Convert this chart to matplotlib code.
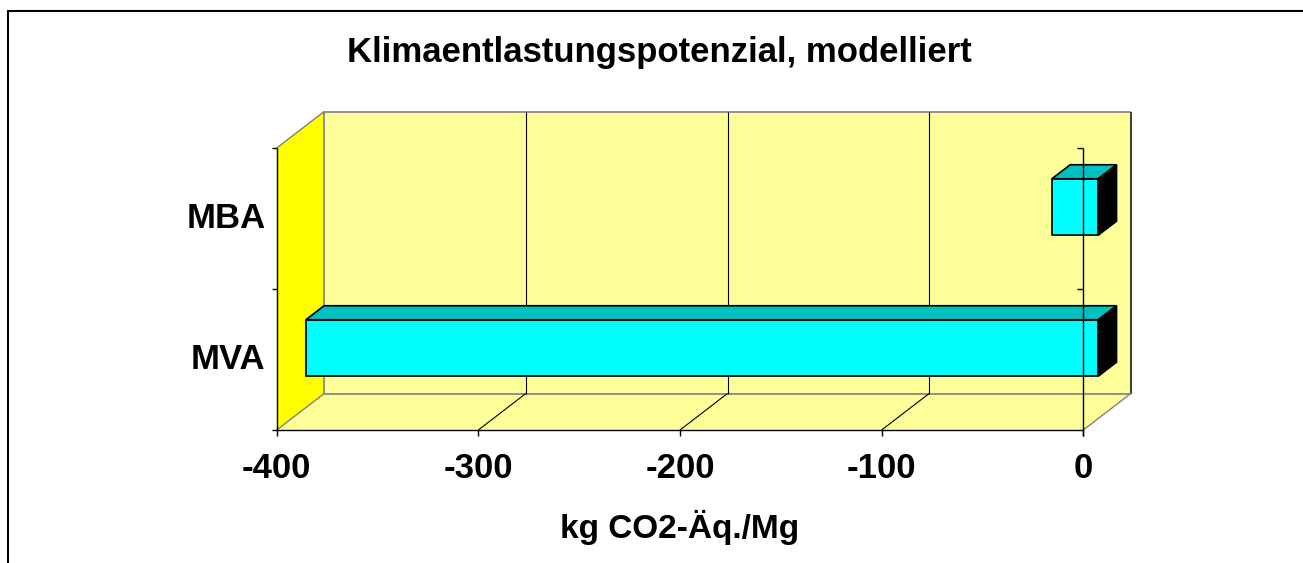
import matplotlib
matplotlib.use("Agg")
import matplotlib.pyplot as plt
from matplotlib.patches import Polygon, Rectangle
from matplotlib.transforms import IdentityTransform, ScaledTranslation
import numpy as np

plt.rcParams['font.family'] = ['Liberation Sans', 'DejaVu Sans']

# ---- data ----
categories = ["MVA", "MBA"]
values = [-393, -23]
xticks = [-400, -300, -200, -100, 0]
title = "Klimaentlastungspotenzial, modelliert"
xlabel = "kg CO2-Äq./Mg"

# ---- styling ----
W, H = 1303, 563
DPI = 100
fig = plt.figure(figsize=(W / DPI, H / DPI), dpi=DPI)
fig.patch.set_facecolor("white")

# front plane of the 3D box, in pixels
x0p, x1p = 276.7, 1083.3
ytop, ybot = 148, 430
ax = fig.add_axes([x0p / W, 1 - ybot / H, (x1p - x0p) / W, (ybot - ytop) / H])
ax.set_xlim(-400, 0)
ax.set_ylim(0, 2)
ax.axis("off")

D = np.array([47.5, 36.5])  # depth vector (display px)
BAR_H = 0.40
Z0, Z1 = 0.316, 0.70

idt = IdentityTransform()


def P(x, y, z=0.0):
    pt = ax.transData.transform((x, y))
    return pt + z * D


def poly(pts, fc, ec="none", lw=1.0, z=1):
    p = Polygon(np.array(pts), closed=True, facecolor=fc, edgecolor=ec,
                linewidth=lw, transform=idt, zorder=z, clip_on=False,
                joinstyle="miter")
    fig.patches.append(p)
    return p


def line(pts, color="black", lw=1.0, z=3):
    pts = np.array(pts)
    l = plt.Line2D(pts[:, 0], pts[:, 1], color=color, lw=lw, transform=idt,
                   zorder=z, solid_capstyle="butt")
    fig.lines.append(l)


xmin, xmax = xticks[0], xticks[-1]
n = len(categories)

# border of the chart area (cropped on right/bottom)
fig.patches.append(Rectangle((8 / W, -0.1), 1.2, 1 - 11 / H + 0.1,
                             transform=fig.transFigure, fill=False,
                             edgecolor="black", lw=1.5, zorder=0))

# walls
poly([P(xmin, 0, 1), P(xmax, 0, 1), P(xmax, n, 1), P(xmin, n, 1)],
     "#FFFF99", z=1)
poly([P(xmin, 0, 0), P(xmin, 0, 1), P(xmin, n, 1), P(xmin, n, 0)],
     "#FFFF00", z=1)
poly([P(xmin, 0, 0), P(xmax, 0, 0), P(xmax, 0, 1), P(xmin, 0, 1)],
     "#FFFF99", z=1)

gray = "#808080"
# wall outlines
line([P(xmin, 0, 1), P(xmin, n, 1), P(xmax, n, 1)], gray, 1.2, 2)
line([P(xmax, n, 1), P(xmax, 0, 1)], "#404040", 1.5, 2)
line([P(xmin, 0, 1), P(xmax, 0, 1)], gray, 1.2, 2)
line([P(xmin, n, 0), P(xmin, n, 1)], gray, 1.0, 2)
line([P(xmin, 0, 0), P(xmin, 0, 1)], gray, 1.0, 2)
line([P(xmax, 0, 0), P(xmax, 0, 1)], gray, 1.0, 2)

# gridlines on back wall and floor
for t in xticks[1:-1]:
    line([P(t, 0, 1), P(t, n, 1)], "black", 0.8, 2)
    line([P(t, 0, 0), P(t, 0, 1)], "black", 0.8, 2)

# value axis (front floor edge) and ticks
line([P(xmin, 0, 0), P(xmax, 0, 0)], "black", 1.0, 3)
for t in xticks:
    a = P(t, 0, 0)
    line([a, a - np.array([0, 6])], "black", 1.0, 3)
    ax.text(t, 0, str(t), transform=ax.transData +
            ScaledTranslation(0, -22 / DPI, fig.dpi_scale_trans),
            ha="center", va="top", fontsize=25, fontweight="bold")

# category axis at left (wall front edge)
line([P(xmin, 0, 0), P(xmin, n, 0)], "black", 1.0, 3)
for k in range(n + 1):
    a = P(xmin, k, 0)
    line([a, a - np.array([5, 0])], "black", 1.0, 3)

for i, cat in enumerate(categories):
    ax.text(xmin, i + 0.5, cat, transform=ax.transData +
            ScaledTranslation(-11 / DPI, 0, fig.dpi_scale_trans),
            ha="right", va="center", fontsize=25, fontweight="bold")

# bars
for i, v in enumerate(values):
    c = i + 0.5
    lo, hi = c - BAR_H / 2, c + BAR_H / 2
    # front
    poly([P(v, lo, Z0), P(0, lo, Z0), P(0, hi, Z0), P(v, hi, Z0)],
         "#00FFFF", "black", 1.2, 4)
    # top
    poly([P(v, hi, Z0), P(0, hi, Z0), P(0, hi, Z1), P(v, hi, Z1)],
         "#00C0C0", "black", 1.2, 4)
    # side
    poly([P(0, lo, Z0), P(0, lo, Z1), P(0, hi, Z1), P(0, hi, Z0)],
         "#000000", "black", 1.2, 4)

# category axis line at zero (drawn over bars)
line([P(0, 0, 0) - np.array([0, 6]), P(0, n, 0)], "black", 1.0, 6)
for k in range(1, n + 1):
    a = P(0, k, 0)
    line([a, a - np.array([6, 0])], "black", 1.0, 6)

fig.text(659 / W, 1 - 62 / H, title, ha="center", va="baseline",
         fontsize=25, fontweight="bold")
fig.text(680 / W, 1 - 527 / H, xlabel, ha="center", va="center",
         fontsize=24, fontweight="bold")

fig.savefig("out.png", dpi=DPI)
